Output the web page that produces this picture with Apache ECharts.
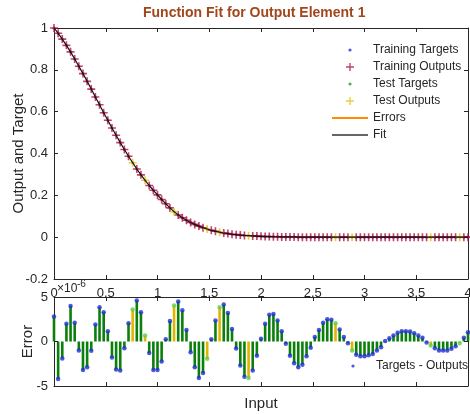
<!DOCTYPE html>
<html><head><meta charset="utf-8">
<script src="https://cdn.jsdelivr.net/npm/echarts@6/dist/echarts.min.js"></script>
<style>html,body{margin:0;padding:0;background:#fff}#c{width:470px;height:414px}</style>
</head><body><div id="c"></div>
<script>
// Input values (x)
const inputs = [0,0.04,0.08,0.12,0.16,0.2,0.24,0.28,0.32,0.36,
0.4,0.44,0.48,0.52,0.56,0.6,0.64,0.68,0.72,0.76,
0.8,0.84,0.88,0.92,0.96,1,1.04,1.08,1.12,1.16,
1.2,1.24,1.28,1.32,1.36,1.4,1.44,1.48,1.52,1.56,
1.6,1.64,1.68,1.72,1.76,1.8,1.84,1.88,1.92,1.96,
2,2.04,2.08,2.12,2.16,2.2,2.24,2.28,2.32,2.36,
2.4,2.44,2.48,2.52,2.56,2.6,2.64,2.68,2.72,2.76,
2.8,2.84,2.88,2.92,2.96,3,3.04,3.08,3.12,3.16,
3.2,3.24,3.28,3.32,3.36,3.4,3.44,3.48,3.52,3.56,
3.6,3.64,3.68,3.72,3.76,3.8,3.84,3.88,3.92,3.96,4];
// Target / output values
const targets = [1.000,0.975,0.947,0.917,0.886,0.852,0.817,0.782,0.745,0.708,
0.670,0.633,0.595,0.559,0.522,0.487,0.452,0.419,0.387,0.356,
0.326,0.298,0.272,0.247,0.224,0.202,0.180,0.160,0.140,0.122,
0.106,0.093,0.081,0.070,0.061,0.053,0.045,0.039,0.033,0.028,
0.024,0.020,0.017,0.014,0.012,0.010,0.008,0.007,0.006,0.005,
0.004,0.003,0.003,0.002,0.002,0.001,0.001,0.001,0.001,0,
0,0,0,0,0,0,0,0,0,0,
0,0,0,0,0,0,0,0,0,0,
0,0,0,0,0,0,0,0,0,0,
0,0,0,0,0,0,0,0,0,0,0];
// Errors (Targets - Outputs), in units of 1e-6
const errors = [2.8,-4.2,-1.9,2.0,4.0,2.1,-1.0,-3.2,-2.9,-1.05,
1.9,3.85,3.3,1.15,-1.8,-3.15,-3.25,-0.75,2.05,3.6,
4.6,3.3,0.67,-1.3,-3.2,-3.2,-2.25,0.26,2.3,4.05,
4.5,3.5,1.3,-1.2,-2.9,-4.1,-3.55,-1.95,0.26,2.35,
3.85,4.15,3.2,1.4,-0.8,-2.7,-3.95,-4.1,-3.25,-1.6,
0.3,2.0,3.0,3.1,2.35,1.15,-0.26,-1.6,-2.43,-2.9,
-2.6,-1.65,-0.7,0.5,1.3,2.1,2.5,2.45,2.05,1.35,
0.5,-0.2,-1.0,-1.5,-1.65,-1.65,-1.55,-1.4,-1.0,-0.64,
0.05,0.37,0.67,0.97,1.16,1.16,1.12,0.94,0.67,0.41,
-0.11,-0.45,-0.75,-1.0,-1.0,-1.0,-0.82,-0.52,-0.19,0.41,1.05];
// indices of test samples
const testIdx = [19,22,29,37,40,47,68,72,91,98];
const xRange = [0, 4, 0.5];
const yRange = [-0.2, 1, 0.2];
const errRange = [-5, 5, 5];

const isTest = i => testIdx.indexOf(i) >= 0;
const trainPts = [], testPts = [], fitPts = [], barData = [], errTrain = [], errTest = [];
inputs.forEach((x, i) => {
  fitPts.push([x, targets[i]]);
  if (isTest(i)) { testPts.push([x, targets[i]]); errTest.push([x, errors[i]]); }
  else { trainPts.push([x, targets[i]]); errTrain.push([x, errors[i]]); }
  barData.push({value: [x, errors[i]], itemStyle: {color: isTest(i) ? '#e2b400' : '#0b7f0b'}});
});

const FONT = 'Liberation Sans, Arial, sans-serif';
const AX = '#262626';
const PLUS = 'path://M3.2,0h1.6v8h-1.6zM0,3.2h8v1.6h-8z';
const LDOT = 'path://M0,0M36,10M19.6,5A1.6,1.6,0,1,1,16.4,5A1.6,1.6,0,1,1,19.6,5Z';
const LPLUS = 'path://M0,0M36,10M17.3,1h1.4v8h-1.4zM14,4.3h8v1.4h-8z';
const LLINE = 'path://M0,0M36,10M0,4.1H36V5.9H0Z';
const LLINE2 = 'path://M0,0M36,10M0,4.3H36V5.7H0Z';

function xAx(grid, pos, labels, extra) {
  return Object.assign({
    type: 'value', gridIndex: grid, position: pos, min: xRange[0], max: xRange[1], interval: xRange[2],
    axisLine: {show: true, onZero: false, lineStyle: {color: AX, width: 1}},
    axisTick: {show: true, inside: true, length: 4, lineStyle: {color: AX}},
    axisLabel: {show: labels, color: AX, fontSize: 13, fontFamily: FONT, margin: 8},
    splitLine: {show: false}, nameMoveOverlap: false
  }, extra || {});
}
function yAx(grid, pos, labels, rng, extra) {
  return Object.assign({
    type: 'value', gridIndex: grid, position: pos, min: rng[0], max: rng[1], interval: rng[2],
    axisLine: {show: true, onZero: false, lineStyle: {color: AX, width: 1}},
    axisTick: {show: true, inside: true, length: 4, lineStyle: {color: AX}},
    axisLabel: {show: labels, color: AX, fontSize: 13, fontFamily: FONT, margin: 6},
    splitLine: {show: false}, nameMoveOverlap: false
  }, extra || {});
}

const chart = echarts.init(document.getElementById('c'), null, {renderer: 'canvas'});
chart.setOption({
  animation: false,
  backgroundColor: '#fff',
  title: {text: 'Function Fit for Output Element 1', left: 143, top: 6, padding: 0,
    textStyle: {color: '#a2461c', fontSize: 14, fontWeight: 'bold', fontFamily: FONT}},
  grid: [
    {left: 54, top: 28, width: 414, height: 251, z: 0, containLabel: false, outerBoundsMode: 'none'},
    {left: 54, top: 297, width: 414, height: 89, show: true, backgroundColor: '#fff', borderWidth: 0, z: 1,
      containLabel: false, outerBoundsMode: 'none'}
  ],
  xAxis: [
    xAx(0, 'bottom', true, {z: 0}),
    xAx(0, 'top', false, {z: 0}),
    xAx(1, 'bottom', false, {z: 2, name: 'Input', nameLocation: 'middle', nameGap: 10,
      nameTextStyle: {color: AX, fontSize: 15, fontFamily: FONT}}),
    xAx(1, 'top', false, {z: 2})
  ],
  yAxis: [
    yAx(0, 'left', true, yRange, {name: 'Output and Target', nameLocation: 'middle', nameGap: 28,
      nameTextStyle: {color: AX, fontSize: 15, fontFamily: FONT}}),
    yAx(0, 'right', false, yRange),
    yAx(1, 'left', true, errRange, {z: 2, name: 'Error', nameLocation: 'middle', nameGap: 19,
      nameTextStyle: {color: AX, fontSize: 15, fontFamily: FONT}}),
    yAx(1, 'right', false, errRange, {z: 2})
  ],
  legend: [
    {left: 332, top: 43, orient: 'vertical', itemWidth: 36, itemHeight: 10, itemGap: 3, padding: 0,
      textStyle: {color: AX, fontSize: 12, fontFamily: FONT, lineHeight: 14},
      data: [
        {name: 'Training Targets', icon: LDOT, itemStyle: {color: '#1f2fd6'}},
        {name: 'Training Outputs', icon: LPLUS, itemStyle: {color: '#b3163c'}},
        {name: 'Test Targets', icon: LDOT, itemStyle: {color: '#22a022'}},
        {name: 'Test Outputs', icon: LPLUS, itemStyle: {color: '#e3c21a'}},
        {name: 'Errors', icon: LLINE, itemStyle: {color: '#ff8c00'}},
        {name: 'Fit', icon: LLINE2, itemStyle: {color: '#333333'}}
      ]},
    {left: 335, top: 359, orient: 'vertical', itemWidth: 36, itemHeight: 10, padding: 0,
      textStyle: {color: AX, fontSize: 12, fontFamily: FONT, lineHeight: 14},
      data: [{name: 'Targets - Outputs', icon: LDOT, itemStyle: {color: '#1f2fd6'}}]}
  ],
  graphic: [
    {type: 'text', left: 57, top: 283, z: 10, style: {text: '\u00d710', fill: AX, font: '12px ' + FONT}},
    {type: 'text', left: 77, top: 279, z: 10, style: {text: '-6', fill: AX, font: '10px ' + FONT}}
  ],
  series: [
    {name: 'Training Targets', type: 'scatter', xAxisIndex: 0, yAxisIndex: 0, symbol: 'circle', symbolSize: 3,
      itemStyle: {color: '#1f2fd6'}, data: trainPts, z: 2},
    {name: 'Training Outputs', type: 'scatter', xAxisIndex: 0, yAxisIndex: 0, symbol: PLUS, symbolSize: 8,
      itemStyle: {color: '#b3163c'}, data: trainPts, z: 2},
    {name: 'Test Targets', type: 'scatter', xAxisIndex: 0, yAxisIndex: 0, symbol: 'circle', symbolSize: 3,
      itemStyle: {color: '#22a022'}, data: testPts, z: 2},
    {name: 'Test Outputs', type: 'scatter', xAxisIndex: 0, yAxisIndex: 0, symbol: PLUS, symbolSize: 8,
      itemStyle: {color: '#e3c21a'}, data: testPts, z: 2},
    {name: 'Errors', type: 'line', xAxisIndex: 0, yAxisIndex: 0, symbol: 'none',
      lineStyle: {color: '#ff8c00', width: 2}, itemStyle: {color: '#ff8c00'}, data: []},
    {name: 'Fit', type: 'line', xAxisIndex: 0, yAxisIndex: 0, symbol: 'none', smooth: false,
      lineStyle: {color: '#111111', width: 1.2}, itemStyle: {color: '#333333'}, data: fitPts, z: 3},
    {name: 'errBars', type: 'bar', xAxisIndex: 2, yAxisIndex: 2, barWidth: 2.6, data: barData, z: 2},
    {name: 'Targets - Outputs', type: 'scatter', xAxisIndex: 2, yAxisIndex: 2, symbol: 'circle', symbolSize: 4.5,
      itemStyle: {color: '#1f2fd6'}, data: errTrain, z: 3},
    {name: 'errTest', type: 'scatter', xAxisIndex: 2, yAxisIndex: 2, symbol: 'circle', symbolSize: 4.5,
      itemStyle: {color: '#5ccf4a'}, data: errTest, z: 3}
  ]
});
</script></body></html>
